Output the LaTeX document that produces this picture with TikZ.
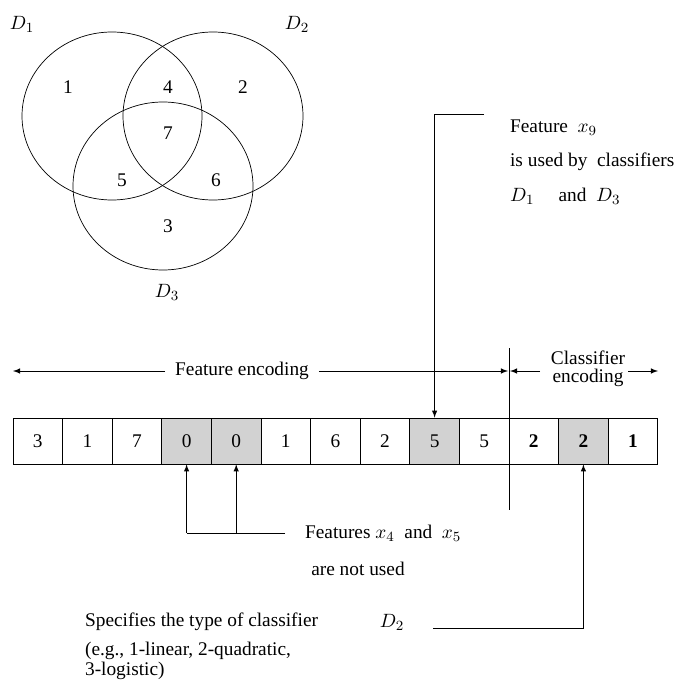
\documentclass[tikz,border=0pt]{standalone}
\usepackage{amsmath, amssymb}
\usepackage{fontspec}
\setmainfont{Liberation Serif}
\usepackage{tikz}
\usetikzlibrary{calc}

\tikzset{
  cell/.style={draw, minimum width=0.992cm, minimum height=0.92cm, inner sep=0pt},
  used/.style={cell, fill=gray!35},
  lbl/.style={inner sep=1pt},
}

\begin{document}
\begin{tikzpicture}[x=0.02cm, y=-0.02cm, >=latex, font=\fontsize{11}{13}\selectfont]
				\useasboundingbox (0,0) rectangle (682,686);
				% Venn diagram of the three classifiers
				\coordinate (C1) at (112,116);
				\coordinate (C2) at (213,116);
				\coordinate (C3) at (163,186);
				\draw (C1) ellipse (90 and 84);
				\draw (C2) ellipse (90 and 84);
				\draw (C3) ellipse (90 and 84);
				\node[lbl] (d1) at (22,24) {$D_1$};
				\node[lbl] (d2) at (297,24) {$D_2$};
				\node[lbl] (d3) at (167,292) {$D_3$};
				\node[lbl] (r1) at (68,87) {1};
				\node[lbl] (r4) at (168,87) {4};
				\node[lbl] (r2) at (243,87) {2};
				\node[lbl] (r7) at (168,133) {7};
				\node[lbl] (r5) at (122,180) {5};
				\node[lbl] (r6) at (216,180) {6};
				\node[lbl] (r3) at (168,226) {3};
				% the chromosome
				\node[cell] (b1) at (37.8,441) {3};
				\node[cell] (b2) at (87.4,441) {1};
				\node[cell] (b3) at (137,441) {7};
				\node[used] (b4) at (186.6,441) {0};
				\node[used] (b5) at (236.2,441) {0};
				\node[cell] (b6) at (285.8,441) {1};
				\node[cell] (b7) at (335.4,441) {6};
				\node[cell] (b8) at (385,441) {2};
				\node[used] (b9) at (434.6,441) {5};
				\node[cell] (b10) at (484.2,441) {5};
				\node[cell] (b11) at (533.8,441) {\textbf{2}};
				\node[used] (b12) at (583.4,441) {\textbf{2}};
				\node[cell] (b13) at (633,441) {\textbf{1}};
				\coordinate (S) at (509,348);
				\coordinate (T) at (509,510);
				\draw (S) -- (T);
				% encodings
				\node[lbl] (fe) at (242,371) {Feature encoding};
				\coordinate (FL) at (13,371);
				\coordinate (FR) at (508,371);
				\draw[->] (fe.west) ++(-8,0) -- (FL);
				\draw[->] (fe.east) ++(8,0) -- (FR);
				\node[lbl, align=center] (ce) at (588,369) {Classifier\\[-3pt]encoding};
				\coordinate (CL) at (510,371);
				\coordinate (CR) at (658,371);
				\draw[->] (540,371) -- (CL);
				\draw[->] (628,371) -- (CR);
				% feature x9
				\coordinate (P) at (484,114);
				\coordinate (Q) at (434.6,114);
				\draw[->] (P) -- (Q) -- (b9.north);
				\node[lbl, anchor=west] (f9) at (508,128) {Feature \ $x_9$};
				\node[lbl, anchor=west] (u9) at (508,162) {is used by \ classifiers};
				\node[lbl, anchor=west] (c9) at (508,196) {$D_1$ \quad and \ $D_3$};
				% features x4 and x5
				\coordinate (U) at (285,533);
				\coordinate (U4) at (186.6,533);
				\coordinate (U5) at (236.2,533);
				\draw (U) -- (U4);
				\draw[->] (U4) -- (b4.south);
				\draw[->] (U5) -- (b5.south);
				\node[lbl, anchor=west] (f45) at (303,533) {Features $x_4$ \ and \ $x_5$};
				\node[lbl] (nu) at (358,569) {are not used};
				% classifier type
				\node[lbl, anchor=west] (sp) at (83,622) {Specifies the type of classifier};
				\node[lbl] (dd) at (392,622) {$D_2$};
				\node[lbl, anchor=west, align=left] (eg) at (83,661) {(e.g., 1-linear, 2-quadratic,\\[-2pt]3-logistic)};
				\coordinate (V) at (433,628);
				\coordinate (W) at (583.4,628);
				\draw[->] (V) -- (W) -- (b12.south);
			\end{tikzpicture}
\end{document}
